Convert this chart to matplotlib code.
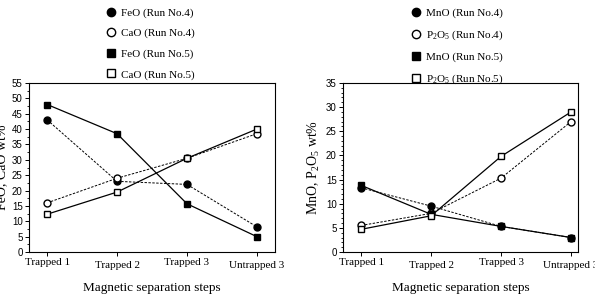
import matplotlib
matplotlib.use("Agg")
from matplotlib import pyplot as plt
from matplotlib.ticker import MultipleLocator
from matplotlib.lines import Line2D

steps = ["Trapped 1", "Trapped 2", "Trapped 3", "Untrapped 3"]

feo_run4 = [43.0, 23.0, 22.0, 8.2]
cao_run4 = [16.0, 24.0, 30.5, 38.5]
feo_run5 = [48.0, 38.5, 15.7, 5.0]
cao_run5 = [12.3, 19.5, 30.5, 40.0]

mno_run4 = [13.3, 9.5, 5.3, 3.0]
p2o5_run4 = [5.5, 8.0, 15.3, 27.0]
mno_run5 = [13.8, 7.8, 5.3, 3.0]
p2o5_run5 = [4.7, 7.5, 19.8, 29.0]

serif = "Liberation Serif"
sans = "Liberation Sans"
plt.rcParams["mathtext.fontset"] = "custom"
plt.rcParams["mathtext.rm"] = serif
plt.rcParams["mathtext.it"] = serif + ":italic"

fig = plt.figure(figsize=(5.95, 2.94), dpi=100)
W, H = 595, 294
ax1 = fig.add_axes([29 / W, 1 - 252 / H, 246 / W, 169 / H])
ax2 = fig.add_axes([343 / W, 1 - 252 / H, 235 / W, 169 / H])

x = list(range(len(steps)))


def draw(ax, s4a, s4b, s5a, s5b, ymax, minor, ylabel, names, legx):
    ax.plot(x, s4a, "--", color="black", lw=0.7, marker="o", ms=5,
            mfc="black", mec="black", dashes=(2.5, 1.5))
    ax.plot(x, s4b, "--", color="black", lw=0.7, marker="o", ms=5,
            mfc="white", mec="black", dashes=(2.5, 1.5))
    ax.plot(x, s5a, "-", color="black", lw=0.9, marker="s", ms=5,
            mfc="black", mec="black")
    ax.plot(x, s5b, "-", color="black", lw=0.9, marker="s", ms=5,
            mfc="white", mec="black")
    ax.set_ylim(0, ymax)
    ax.yaxis.set_major_locator(MultipleLocator(5))
    ax.yaxis.set_minor_locator(MultipleLocator(minor))
    ax.set_xticks(x)
    ax.set_xticklabels(steps, fontfamily=serif, fontsize=8)
    for i, lab in enumerate(ax.get_xticklabels()):
        if i % 2 == 1:
            lab.set_y(-0.015)
    for lab in ax.get_yticklabels():
        lab.set_fontfamily(sans)
        lab.set_fontsize(7)
    ax.tick_params(axis="both", which="major", direction="out", length=3,
                   width=0.7, pad=1.5, top=False, right=False)
    ax.tick_params(axis="y", which="minor", direction="out", length=1.5,
                   width=0.6)
    for sp in ax.spines.values():
        sp.set_linewidth(0.8)
    ax.set_xlabel("Magnetic separation steps", fontfamily=serif,
                  fontsize=9.5, labelpad=9)
    ax.set_ylabel(ylabel, fontfamily=serif, fontsize=10, labelpad=3)

    handles = [
        Line2D([], [], ls="none", marker="o", ms=6, mfc="black", mec="black"),
        Line2D([], [], ls="none", marker="o", ms=6, mfc="white", mec="black"),
        Line2D([], [], ls="none", marker="s", ms=6, mfc="black", mec="black"),
        Line2D([], [], ls="none", marker="s", ms=6, mfc="white", mec="black"),
    ]
    leg = fig.legend(handles, names, loc="upper left",
                     bbox_to_anchor=(legx / W, 1.0), frameon=False,
                     prop={"family": serif, "size": 8}, handlelength=1,
                     handletextpad=0.4, labelspacing=0.95, borderaxespad=0.3)
    return leg


draw(ax1, feo_run4, cao_run4, feo_run5, cao_run5, 55, 2.5, "FeO, CaO wt%",
     ["FeO (Run No.4)", "CaO (Run No.4)", "FeO (Run No.5)", "CaO (Run No.5)"],
     98)
ax1.set_xlim(-0.26, 3.26)

draw(ax2, mno_run4, p2o5_run4, mno_run5, p2o5_run5, 35, 1,
     "MnO, P$_2$O$_5$ wt%",
     ["MnO (Run No.4)", "P$_2$O$_5$ (Run No.4)", "MnO (Run No.5)",
      "P$_2$O$_5$ (Run No.5)"], 403)
ax2.set_xlim(-0.26, 3.1)

fig.savefig("out.png", dpi=100)
